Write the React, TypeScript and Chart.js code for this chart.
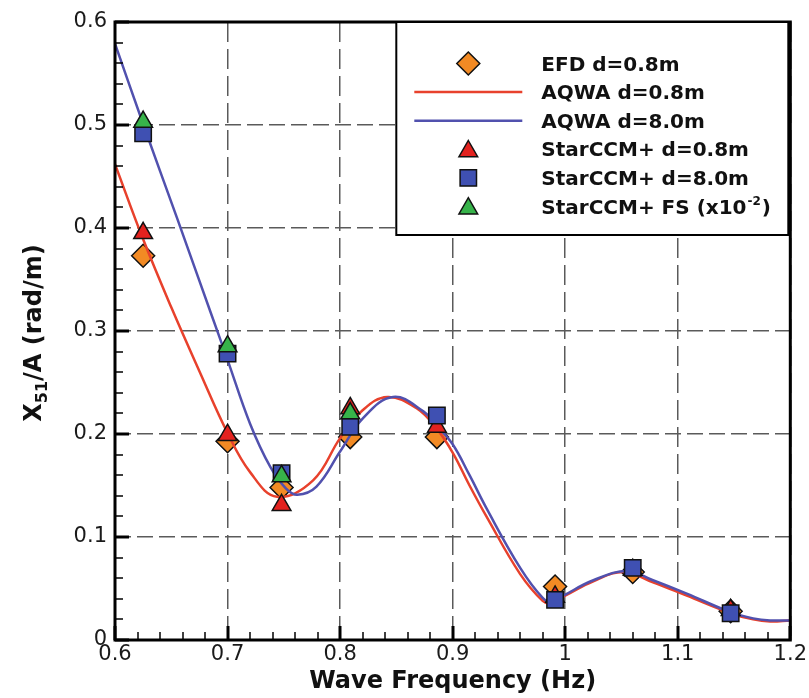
import React, { useEffect, useRef } from 'react';
import { Chart, registerables } from 'chart.js';

Chart.register(...registerables);

// ---- Data ----
const FREQ_EXP = [0.625, 0.7, 0.748, 0.809, 0.886, 0.991, 1.06, 1.147];
const EFD_D08 = [0.373, 0.193, 0.148, 0.197, 0.197, 0.052, 0.066, 0.028];
const STAR_D08 = [0.395, 0.199, 0.131, 0.225, 0.207, 0.042, 0.068, 0.029];
const STAR_D80 = [0.492, 0.278, 0.162, 0.207, 0.218, 0.039, 0.07, 0.026];
const FREQ_FS = [0.625, 0.7, 0.748, 0.809];
const STAR_FS = [0.503, 0.285, 0.159, 0.22];

const AQWA08_FREQ = [0.6, 0.625, 0.65, 0.675, 0.7, 0.72, 0.744, 0.776, 0.8, 0.82, 0.842, 0.868, 0.886, 0.9, 0.915, 0.93, 0.96, 0.98, 0.987, 1.0, 1.025, 1.052, 1.078, 1.108, 1.147, 1.167, 1.182, 1.2];
const AQWA08_VAL = [0.462, 0.389, 0.323, 0.261, 0.201, 0.163, 0.139, 0.155, 0.196, 0.223, 0.236, 0.225, 0.205, 0.182, 0.15, 0.12, 0.064, 0.038, 0.036, 0.043, 0.057, 0.066, 0.056, 0.043, 0.026, 0.02, 0.018, 0.019];

const AQWA80_FREQ = [0.6, 0.625, 0.655, 0.685, 0.7, 0.72, 0.738, 0.752, 0.762, 0.779, 0.8, 0.82, 0.847, 0.874, 0.886, 0.9, 0.915, 0.93, 0.96, 0.98, 0.989, 1.0, 1.025, 1.055, 1.078, 1.108, 1.147, 1.167, 1.182, 1.2];
const AQWA80_VAL = [0.579, 0.501, 0.41, 0.318, 0.272, 0.21, 0.168, 0.147, 0.141, 0.149, 0.183, 0.215, 0.236, 0.222, 0.208, 0.19, 0.16, 0.128, 0.07, 0.041, 0.037, 0.044, 0.058, 0.067, 0.058, 0.045, 0.027, 0.021, 0.019, 0.019];

const X_TICKS = [0.6, 0.7, 0.8, 0.9, 1.0, 1.1, 1.2];
const X_TICK_LABELS = ['0.6', '0.7', '0.8', '0.9', '1', '1.1', '1.2'];
const Y_TICKS = [0, 0.1, 0.2, 0.3, 0.4, 0.5, 0.6];
const Y_TICK_LABELS = ['0', '0.1', '0.2', '0.3', '0.4', '0.5', '0.6'];

const LEGEND_LABELS = ['EFD d=0.8m', 'AQWA d=0.8m', 'AQWA d=8.0m', 'StarCCM+ d=0.8m', 'StarCCM+ d=8.0m', 'StarCCM+ FS (x10'];

// ---- Styles ----
const C_ORANGE = '#F28A24';
const C_RED_MK = '#E3221F';
const C_BLUE_MK = '#3F50B2';
const C_GREEN = '#37B34A';
const C_RED_LN = '#E8412C';
const C_BLUE_LN = '#5151AE';
const R_DIAMOND = 11.5;
const R_TRI = 10.8;
const R_RECT = 11.6;

const pts = (xs: number[], ys: number[]) => xs.map((x, i) => ({ x, y: ys[i] }));

function drawMarker(ctx: CanvasRenderingContext2D, kind: string, x: number, y: number, fill: string) {
  ctx.save();
  ctx.beginPath();
  if (kind === 'diamond') {
    const r = R_DIAMOND;
    ctx.moveTo(x, y - r);
    ctx.lineTo(x + r, y);
    ctx.lineTo(x, y + r);
    ctx.lineTo(x - r, y);
  } else if (kind === 'triangle') {
    const r = R_TRI;
    ctx.moveTo(x, y - r);
    ctx.lineTo(x + 0.866 * r, y + 0.5 * r);
    ctx.lineTo(x - 0.866 * r, y + 0.5 * r);
  } else {
    const h = R_RECT * Math.SQRT1_2;
    ctx.rect(x - h, y - h, 2 * h, 2 * h);
  }
  ctx.closePath();
  ctx.fillStyle = fill;
  ctx.fill();
  ctx.lineWidth = 1.5;
  ctx.strokeStyle = '#111';
  ctx.stroke();
  ctx.restore();
}

const decorPlugin = {
  id: 'decor',
  afterDraw(chart: any) {
    const { ctx, chartArea: ca, scales } = chart;
    const xs = scales.x;
    const ys = scales.y;
    ctx.save();
    // inward ticks
    ctx.strokeStyle = '#000';
    for (let i = 0; i <= 30; i++) {
      const v = 0.6 + i * 0.02;
      const px = Math.round(xs.getPixelForValue(v));
      const major = i % 5 === 0;
      ctx.lineWidth = major ? 3 : 1.5;
      ctx.beginPath();
      ctx.moveTo(px, ca.bottom);
      ctx.lineTo(px, ca.bottom - (major ? 14 : 8));
      ctx.stroke();
    }
    for (let i = 0; i <= 30; i++) {
      const v = i * 0.02;
      const py = Math.round(ys.getPixelForValue(v));
      const major = i % 5 === 0;
      ctx.lineWidth = major ? 3 : 1.5;
      ctx.beginPath();
      ctx.moveTo(ca.left, py);
      ctx.lineTo(ca.left + (major ? 14 : 8), py);
      ctx.stroke();
    }
    // frame
    ctx.lineWidth = 3;
    ctx.strokeStyle = '#000';
    ctx.strokeRect(ca.left, ca.top, ca.right - ca.left, ca.bottom - ca.top);

    // legend
    const lr = ca.right - 2;
    const ll = lr - 392;
    const lt = ca.top;
    const lb = lt + 213;
    ctx.fillStyle = '#fff';
    ctx.fillRect(ll, lt, lr - ll, lb - lt);
    ctx.lineWidth = 2;
    ctx.strokeStyle = '#000';
    ctx.strokeRect(ll, lt, lr - ll, lb - lt);
    const rowY = (i: number) => lt + 41.5 + i * 28.6;
    const mx = ll + 72;
    const tx = ll + 145;
    drawMarker(ctx, 'diamond', mx, rowY(0), C_ORANGE);
    ctx.lineWidth = 2.5;
    ctx.strokeStyle = C_RED_LN;
    ctx.beginPath();
    ctx.moveTo(ll + 18, rowY(1));
    ctx.lineTo(ll + 126, rowY(1));
    ctx.stroke();
    ctx.strokeStyle = C_BLUE_LN;
    ctx.beginPath();
    ctx.moveTo(ll + 18, rowY(2));
    ctx.lineTo(ll + 126, rowY(2));
    ctx.stroke();
    drawMarker(ctx, 'triangle', mx, rowY(3) + 2, C_RED_MK);
    drawMarker(ctx, 'rect', mx, rowY(4), C_BLUE_MK);
    drawMarker(ctx, 'triangle', mx, rowY(5) + 2, C_GREEN);
    ctx.fillStyle = '#111';
    ctx.textBaseline = 'alphabetic';
    ctx.textAlign = 'left';
    LEGEND_LABELS.forEach((t, i) => {
      ctx.font = 'bold 20px "DejaVu Sans"';
      ctx.fillText(t, tx, rowY(i) + 7);
      if (i === 5) {
        const w = ctx.measureText(t).width;
        ctx.font = 'bold 12px "DejaVu Sans"';
        ctx.fillText('-2', tx + w + 1, rowY(i) - 2);
        const w2 = ctx.measureText('-2').width;
        ctx.font = 'bold 20px "DejaVu Sans"';
        ctx.fillText(')', tx + w + w2 + 2, rowY(i) + 7);
      }
    });

    // x title
    ctx.font = 'bold 24px "DejaVu Sans"';
    ctx.textAlign = 'center';
    ctx.fillText('Wave Frequency (Hz)', (ca.left + ca.right) / 2, ca.bottom + 48);

    // y title with subscript
    const cy = (ca.top + ca.bottom) / 2 + 2;
    ctx.translate(ca.left - 74, cy);
    ctx.rotate(-Math.PI / 2);
    ctx.textAlign = 'left';
    ctx.font = 'bold 24px "DejaVu Sans"';
    const wX = ctx.measureText('X').width;
    const rest = '/A (rad/m)';
    const wR = ctx.measureText(rest).width;
    ctx.font = 'bold 16px "DejaVu Sans"';
    const wS = ctx.measureText('51').width;
    const total = wX + wS + wR;
    const x0 = -total / 2;
    ctx.font = 'bold 24px "DejaVu Sans"';
    ctx.fillText('X', x0, 0);
    ctx.font = 'bold 16px "DejaVu Sans"';
    ctx.fillText('51', x0 + wX, 6);
    ctx.font = 'bold 24px "DejaVu Sans"';
    ctx.fillText(rest, x0 + wX + wS, 0);
    ctx.restore();
  },
};

export default function App() {
  const ref = useRef<HTMLCanvasElement>(null);
  useEffect(() => {
    const canvas = ref.current;
    if (!canvas) return;
    const chart = new Chart(canvas, {
      type: 'scatter',
      data: {
        datasets: [
          {
            label: 'StarCCM+ FS',
            data: pts(FREQ_FS, STAR_FS),
            pointStyle: 'triangle',
            pointRadius: R_TRI,
            backgroundColor: C_GREEN,
            borderColor: '#111',
            pointBorderWidth: 1.5,
            order: 0,
          } as any,
          {
            label: 'StarCCM+ d=8.0m',
            data: pts(FREQ_EXP, STAR_D80),
            pointStyle: 'rect',
            pointRadius: R_RECT,
            backgroundColor: C_BLUE_MK,
            borderColor: '#111',
            pointBorderWidth: 1.5,
            order: 1,
          },
          {
            label: 'StarCCM+ d=0.8m',
            data: pts(FREQ_EXP, STAR_D08),
            pointStyle: 'triangle',
            pointRadius: R_TRI,
            backgroundColor: C_RED_MK,
            borderColor: '#111',
            pointBorderWidth: 1.5,
            order: 2,
          },
          {
            label: 'AQWA d=8.0m',
            data: pts(AQWA80_FREQ, AQWA80_VAL),
            showLine: true,
            pointRadius: 0,
            borderColor: C_BLUE_LN,
            borderWidth: 2.5,
            tension: 0.4,
            order: 3,
          },
          {
            label: 'AQWA d=0.8m',
            data: pts(AQWA08_FREQ, AQWA08_VAL),
            showLine: true,
            pointRadius: 0,
            borderColor: C_RED_LN,
            borderWidth: 2.5,
            tension: 0.4,
            order: 4,
          },
          {
            label: 'EFD d=0.8m',
            data: pts(FREQ_EXP, EFD_D08),
            pointStyle: 'rectRot',
            pointRadius: R_DIAMOND,
            backgroundColor: C_ORANGE,
            borderColor: '#111',
            pointBorderWidth: 1.5,
            order: 5,
          },
        ] as any,
      },
      options: {
        animation: false,
        responsive: false,
        maintainAspectRatio: false,
        events: [],
        layout: { padding: { top: 22, right: 18, left: 0, bottom: 0 } },
        plugins: { legend: { display: false }, tooltip: { enabled: false } },
        scales: {
          x: {
            type: 'linear',
            min: 0.6,
            max: 1.2,
            afterBuildTicks: (s: any) => {
              s.ticks = X_TICKS.map((v) => ({ value: v }));
            },
            afterFit: (s: any) => {
              s.height = 58;
            },
            ticks: {
              callback: (v: any) => {
                const i = X_TICKS.findIndex((t) => Math.abs(t - v) < 1e-6);
                return i >= 0 ? X_TICK_LABELS[i] : '';
              },
              font: { family: '"DejaVu Sans"', size: 21 },
              color: '#1a1a1a',
              padding: 2,
              maxRotation: 0,
              autoSkip: false,
            },
            grid: { color: '#5a5a5a', lineWidth: 1.5, drawTicks: false },
            border: { display: false, dash: [20, 7] },
          },
          y: {
            type: 'linear',
            min: 0,
            max: 0.6,
            afterBuildTicks: (s: any) => {
              s.ticks = Y_TICKS.map((v) => ({ value: v }));
            },
            afterFit: (s: any) => {
              s.width = 115;
            },
            ticks: {
              callback: (v: any) => {
                const i = Y_TICKS.findIndex((t) => Math.abs(t - v) < 1e-6);
                return i >= 0 ? Y_TICK_LABELS[i] : '';
              },
              font: { family: '"DejaVu Sans"', size: 21 },
              color: '#1a1a1a',
              padding: 8,
              autoSkip: false,
            },
            grid: { color: '#5a5a5a', lineWidth: 1.5, drawTicks: false },
            border: { display: false, dash: [16, 6] },
          },
        },
      } as any,
      plugins: [decorPlugin],
    });
    return () => chart.destroy();
  }, []);
  return (
    <div style={{ position: 'fixed', left: 0, top: 0, width: 809, height: 698, background: '#fff' }}>
      <canvas ref={ref} width={809} height={698} style={{ display: 'block', width: 809, height: 698 }} />
    </div>
  );
}
